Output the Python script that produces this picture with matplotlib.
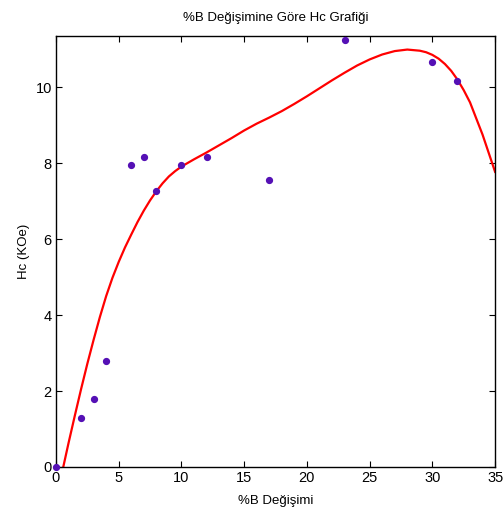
import matplotlib
matplotlib.use("Agg")
import matplotlib.pyplot as plt

plt.rcParams['font.family'] = ['Liberation Sans', 'DejaVu Sans']

# measured points: %B vs Hc (KOe)
b_pct = [0, 2, 3, 4, 6, 7, 8, 10, 12, 17, 23, 30, 32]
hc = [0, 1.3, 1.8, 2.8, 7.95, 8.16, 7.27, 7.95, 8.16, 7.55, 11.25, 10.65, 10.15]

# fitted curve
curve_x = [0.58, 1.0, 1.5, 2.0, 2.5, 3.0, 3.5, 4.0, 4.5, 5.0, 5.5, 6.0,
           6.5, 7.0, 7.5, 8.0, 8.5, 9.0, 9.5, 10.0, 11.0, 12.0, 13.0, 14.0,
           15.0, 16.0, 17.0, 18.0, 19.0, 20.0, 21.0, 22.0, 23.0, 24.0, 25.0,
           26.0, 27.0, 28.0, 29.0, 29.5, 30.0, 30.5, 31.0, 31.5, 32.0, 32.5,
           33.0, 34.0, 35.0]
curve_y = [0.0, 0.63, 1.35, 2.05, 2.72, 3.35, 3.95, 4.5, 4.98, 5.4, 5.78, 6.12,
           6.45, 6.75, 7.02, 7.26, 7.47, 7.65, 7.79, 7.91, 8.1, 8.28, 8.47, 8.66,
           8.86, 9.04, 9.2, 9.37, 9.56, 9.76, 9.97, 10.18, 10.38, 10.57, 10.73,
           10.86, 10.95, 10.99, 10.96, 10.92, 10.85, 10.75, 10.61, 10.43, 10.2,
           9.92, 9.6, 8.75, 7.77]

fig = plt.figure(figsize=(5.03, 5.12), dpi=100)
ax = fig.add_axes([0.1113, 0.0879, 0.873, 0.842])

ax.plot(curve_x, curve_y, color='#ff0000', lw=1.6)
ax.plot(b_pct, hc, 'o', color='#5510b5', ms=4.2, clip_on=False, zorder=3)

ax.set_xlim(0, 35)
ax.set_ylim(0, 11.35)
ax.set_xticks(range(0, 36, 5))
ax.set_yticks(range(0, 11, 2))
ax.tick_params(direction='in', top=True, right=True, length=4, width=0.8,
               labelsize=10.5, pad=3)
for s in ax.spines.values():
    s.set_linewidth(1.0)

ax.set_title('%B Değişimine Göre Hc Grafiği', fontsize=9.5, pad=11)
ax.set_xlabel('%B Değişimi', fontsize=9.5, labelpad=7)
ax.set_ylabel('Hc (KOe)', fontsize=9.5, labelpad=4)

fig.savefig('out.png', dpi=100)
